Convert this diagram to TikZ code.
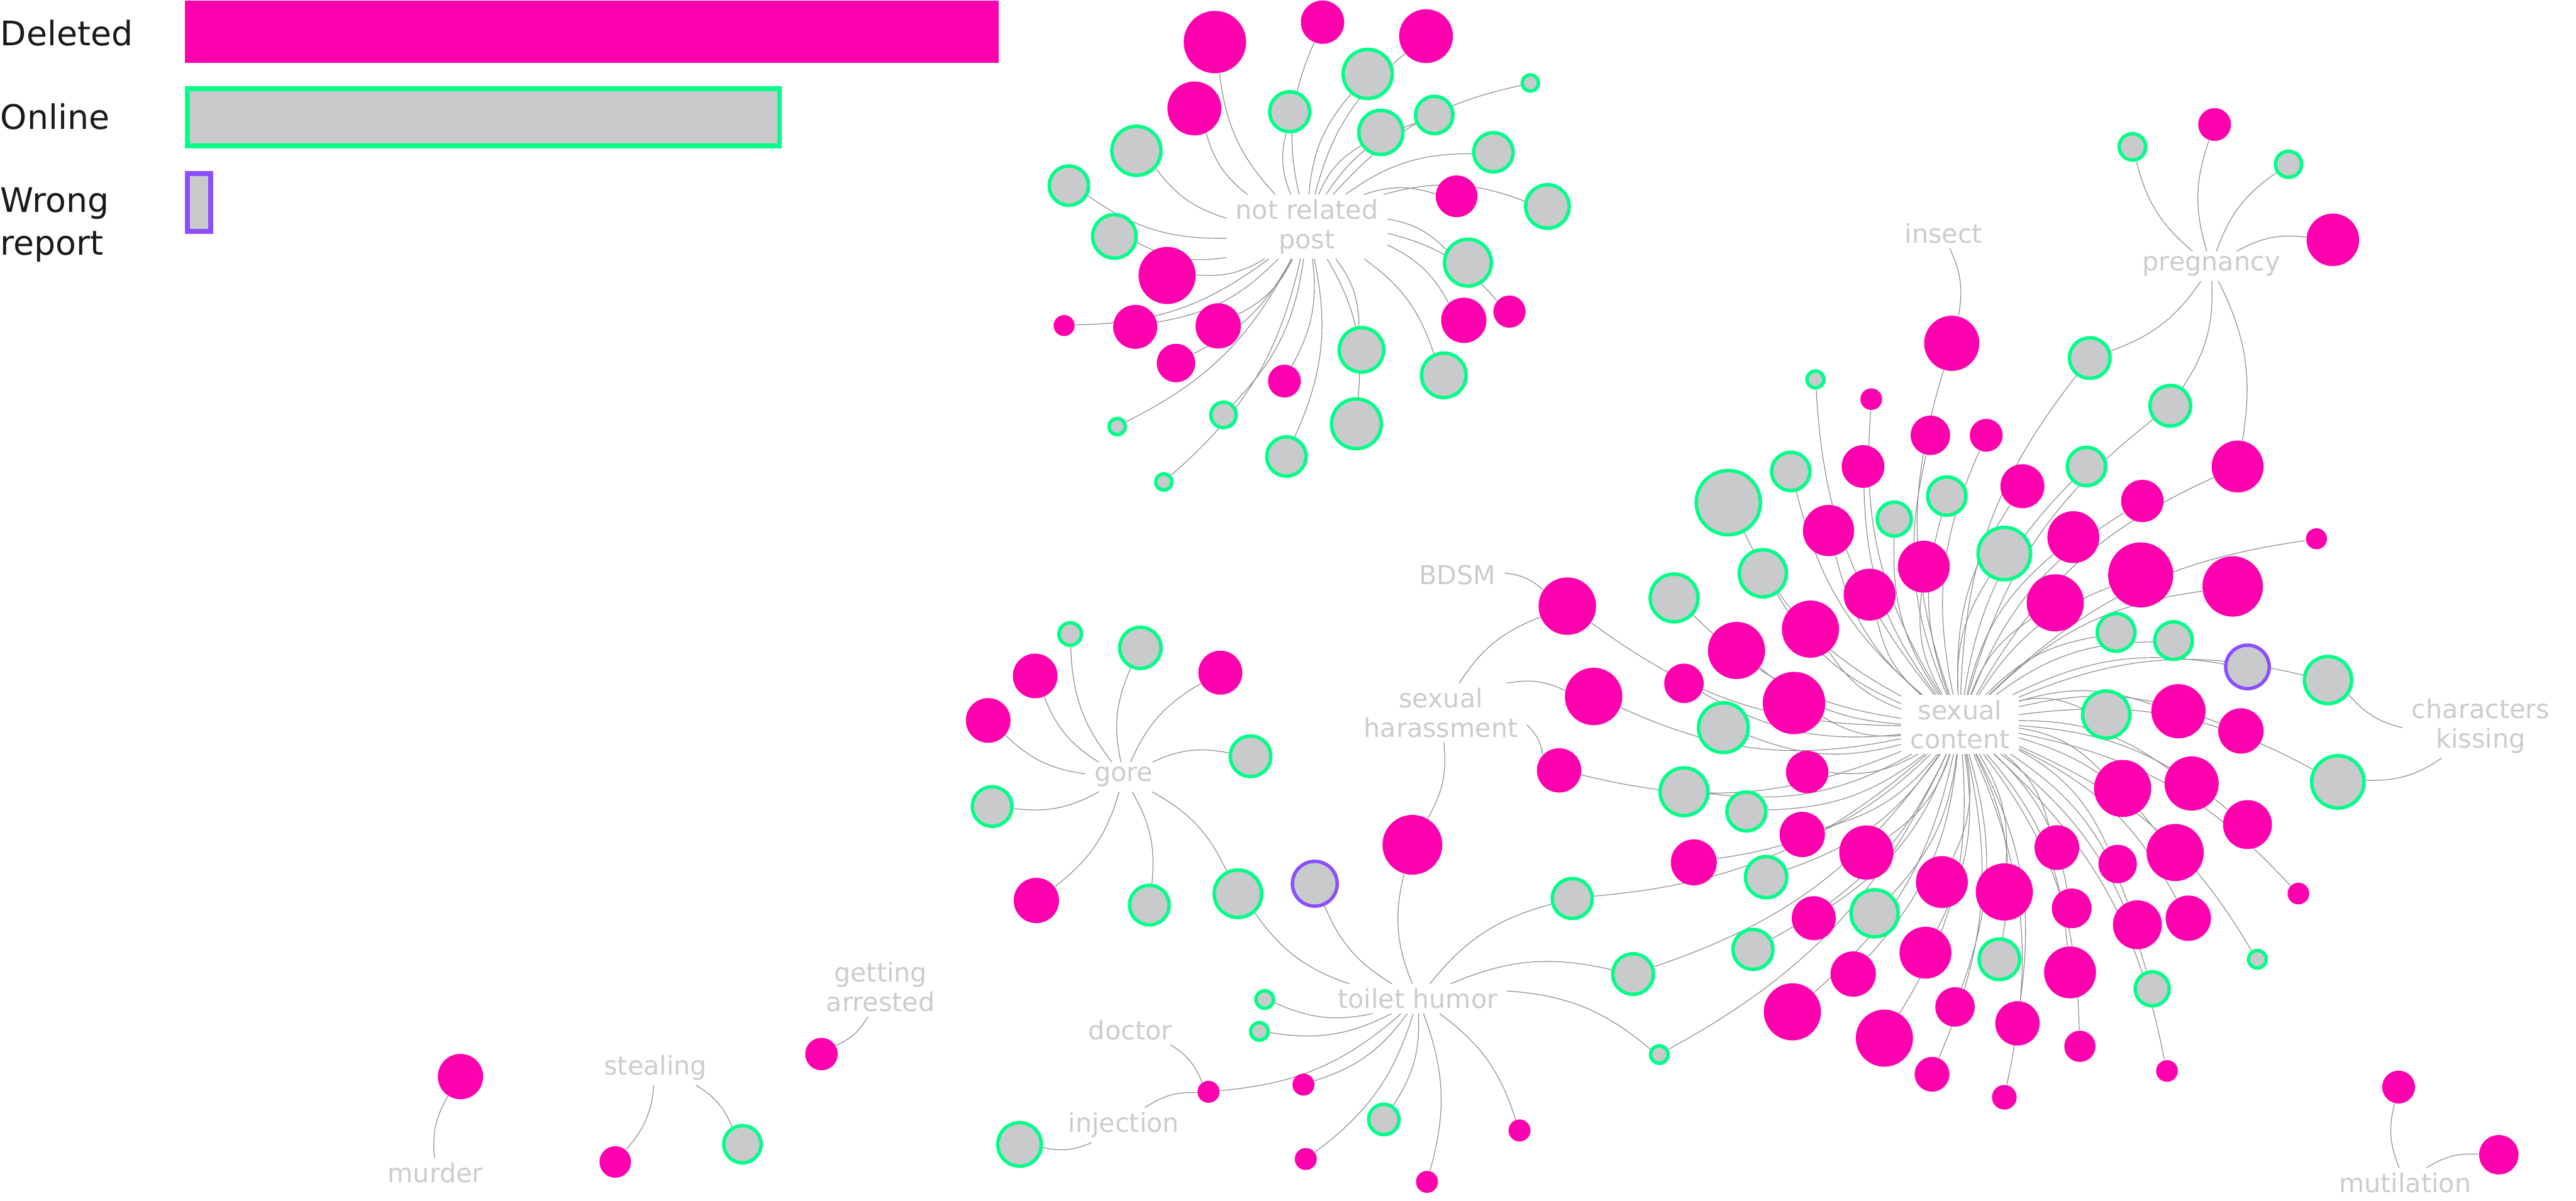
\documentclass[tikz,border=0pt]{standalone}
\usepackage{fontspec}
\setmainfont{DejaVu Sans}
\pgfdeclarelayer{back}\pgfdeclarelayer{links}\pgfsetlayers{back,links,main}
\definecolor{Del}{HTML}{FF00AF}
\definecolor{Onl}{HTML}{00FF88}
\definecolor{Gry}{HTML}{C9CACC}
\definecolor{Wrg}{HTML}{8C4FFF}
\definecolor{Lbl}{HTML}{CCCCCC}
\definecolor{Lnk}{HTML}{8A8A8A}
\definecolor{Ink}{HTML}{1A1A1A}
\begin{document}
\begin{tikzpicture}[x=0.02cm,y=-0.02cm,deleted/.style={circle,fill=Del,inner sep=0pt,minimum size=#1*0.04cm},online/.style={circle,draw=Onl,fill=Gry,line width=1.2pt,inner sep=0pt,minimum size={#1*0.04cm-1.2pt}},wrong/.style={circle,draw=Wrg,fill=Gry,line width=1.2pt,inner sep=0pt,minimum size={#1*0.04cm-1.2pt}},hub/.style={fill=white,text=Lbl,font=\fontsize{9}{10.2}\selectfont,align=center,inner xsep=3pt,inner ysep=1.5pt},legend/.style={anchor=west,text=Ink,font=\fontsize{11.7}{14.8}\selectfont,align=left,inner sep=0pt},link/.style={draw=Lnk,line width=0.25pt,bend left=18}]
\useasboundingbox (0,0) rectangle (1568,731);
\begin{pgfonlayer}{back}\fill[white] (0,0) rectangle (1568,731);\end{pgfonlayer}
\fill[Del](112.7,0.5) rectangle (608,38.4);
\draw[draw=Onl,fill=Gry,line width=0.06cm](114.2,54) rectangle (474.5,88.9);
\draw[draw=Wrg,fill=Gry,line width=0.06cm](114.2,105.8) rectangle (128.4,140.9);
\node[legend](lgdel) at (0,20){Deleted};\node[legend](lgonl) at (0,71){Online};\node[legend](lgwrg) at (0,137){Wrong\\report};
\node[hub](notrel) at (795.5,138){not related\\post};\node[hub](insect) at (1183,142){insect};\node[hub](preg) at (1346,162){pregnancy};
\node[hub](bdsm) at (887,350){BDSM};\node[hub](harass) at (877,434){sexual\\harassment};\node[hub](sexcon) at (1193,441){sexual\\content};
\node[hub](kiss) at (1510,442){characters\\kissing};\node[hub](gore) at (684,473){gore};\node[hub](toilet) at (863,608){toilet humor};
\node[hub](doctor) at (688,627){doctor};\node[hub](inject) at (684,685){injection};\node[hub](arrest) at (536,601){getting\\arrested};
\node[hub](steal) at (399,650){stealing};\node[hub](murder) at (265,714){murder};\node[hub](mutil) at (1464,720){mutilation};
\node[deleted=19](nr1) at (739.5,25.6){};\node[deleted=13.2](nr2) at (805,13.5){};\node[deleted=16.4](nr3) at (868,22){};\node[online=16](nr4) at (832.5,45){};
\node[deleted=16.4](nr5) at (727,66){};\node[online=13.2](nr6) at (785,68){};\node[online=14.5](nr7) at (840.5,80.6){};\node[online=12.4](nr8) at (873,70){};
\node[online=6](nr9) at (931.5,50.5){};\node[online=16](nr10) at (691.7,91.8){};\node[online=13](nr11) at (909,92.7){};\node[online=13](nr12) at (650.6,113){};
\node[deleted=12.7](nr13) at (886.6,119.5){};\node[online=14.3](nr14) at (941.9,125.7){};\node[online=14.3](nr15) at (678.3,143.9){};\node[deleted=17.4](nr16) at (710.4,167.7){};
\node[online=15.3](nr17) at (893.5,159.9){};\node[deleted=6.4](nr18) at (647.7,198.2){};\node[deleted=13.4](nr19) at (691,199){};\node[deleted=13.8](nr20) at (741.5,198.4){};
\node[deleted=13.8](nr21) at (891,195){};\node[deleted=9.8](nr22) at (918.8,189.7){};\node[deleted=11.7](nr23) at (715.8,221){};\node[online=14.6](nr24) at (828.7,213){};
\node[online=14.6](nr25) at (878.8,228.5){};\node[deleted=10](nr26) at (781.8,232){};\node[online=8.8](nr27) at (744.7,252.6){};\node[online=16.2](nr28) at (825.6,258){};
\node[online=6](nr29) at (680,259.7){};\node[online=13](nr30) at (783,277.9){};\node[online=6](nr31) at (708.4,293.4){};
\node[online=9.1](p1) at (1298,89.4){};\node[deleted=10](p2) at (1348,75.8){};\node[online=9](p3) at (1393,100){};\node[deleted=16](p4) at (1420,146){};
\node[deleted=16.8](c1) at (1188,209){};\node[online=13.4](c2) at (1272,218){};\node[online=6.2](c3) at (1105,231){};\node[deleted=6.6](c4) at (1139,243){};
\node[online=13.4](c5) at (1321,247){};\node[deleted=12](c6) at (1175,265){};\node[deleted=10](c7) at (1209,265){};\node[online=12.7](c8) at (1090,287){};
\node[deleted=13](c9) at (1134,284){};\node[online=12.7](c10) at (1270,284){};\node[deleted=15.8](c11) at (1362,284){};\node[online=20.6](c12) at (1052,306){};
\node[deleted=13.4](c13) at (1231,296){};\node[online=12.7](c14) at (1185,302){};\node[deleted=12.9](c15) at (1304,305){};\node[online=11.4](c16) at (1153,316){};
\node[deleted=15.6](c17) at (1113,323){};\node[deleted=6.4](c18) at (1410,328){};\node[deleted=15.8](c19) at (1262,327){};\node[online=17](c20) at (1220,337){};
\node[deleted=15.8](c21) at (1171,345){};\node[online=15.4](c22) at (1073,349){};\node[deleted=19.8](c23) at (1303,350){};\node[deleted=18.4](c24) at (1359,357){};
\node[deleted=15.8](c25) at (1138,362){};\node[deleted=17.4](c26) at (1251,367){};\node[online=15.6](c27) at (1019,364){};\node[deleted=17.5](c28) at (954,369){};
\node[deleted=17.4](c29) at (1102,383){};\node[online=12.5](c30) at (1288,385){};\node[online=12.5](c31) at (1323,390){};\node[deleted=17.4](c32) at (1057,396){};
\node[wrong=14.3](c33) at (1368,406){};\node[deleted=12](c34) at (1025,416){};\node[online=15.4](c35) at (1417,414){};\node[deleted=17.5](c36) at (970,424){};
\node[deleted=19](c37) at (1092,428){};\node[deleted=16.5](c38) at (1326,433){};\node[online=15.4](c39) at (1282,435){};\node[online=16.2](c40) at (1049,443){};
\node[deleted=13.8](c41) at (1364,445){};\node[deleted=13.5](c42) at (949,469){};\node[deleted=12.9](c43) at (1100,470){};\node[deleted=17.4](c44) at (1292,480){};
\node[deleted=16.5](c45) at (1334,477){};\node[online=17](c46) at (1423,476){};\node[online=15.6](c47) at (1025,482){};\node[online=12.9](c48) at (1063,494){};
\node[deleted=14.9](c49) at (1368,502){};\node[deleted=13.8](c50) at (1097,508){};\node[deleted=13.6](c51) at (1252,516){};\node[deleted=16.5](c52) at (1136,519){};
\node[deleted=17.4](c53) at (1324,519){};\node[deleted=14](c54) at (1031,525){};\node[online=13.6](c55) at (1075,534){};\node[deleted=11.7](c56) at (1289,526){};
\node[deleted=15.8](c57) at (1182,537){};\node[deleted=17.4](c58) at (1220,543){};\node[deleted=6.6](c59) at (1399,544){};\node[online=15.4](c60) at (1141,556){};
\node[deleted=12.1](c61) at (1261,553){};\node[deleted=13.4](c62) at (1104,559){};\node[deleted=14.9](c63) at (1301,563){};\node[deleted=13.8](c64) at (1332,559){};
\node[online=13.2](c65) at (957,547){};\node[online=13.2](c66) at (1067,578){};\node[deleted=15.8](c67) at (1172,580){};\node[online=13.4](c68) at (1217,584){};
\node[deleted=13.8](c69) at (1128,593){};\node[online=6.4](c70) at (1374,584){};\node[online=13.4](c71) at (994,593){};\node[deleted=15.8](c72) at (1260,592){};
\node[online=11.4](c73) at (1310,602){};\node[deleted=17.4](c74) at (1091,616){};\node[deleted=12](c75) at (1190,613){};\node[deleted=13.5](c76) at (1228,623){};
\node[deleted=17.4](c77) at (1147,632){};\node[online=6.4](c78) at (1010,642){};\node[deleted=9.5](c79) at (1266,637){};\node[deleted=10.6](c80) at (1176,654){};
\node[deleted=6.6](c81) at (1319,652){};\node[deleted=7.5](c82) at (1220,668){};
\node[online=7.9](g1) at (651.4,386){};\node[online=13.6](g2) at (694.1,394.4){};\node[deleted=13.6](g3) at (630.1,411.5){};\node[deleted=13.4](g4) at (742.8,409.5){};
\node[deleted=13.6](g5) at (601.5,438.6){};\node[online=13.4](g6) at (761.2,460.4){};\node[online=13.1](g7) at (603.9,491){};\node[deleted=13.8](g8) at (630.8,548.2){};
\node[online=13.1](g9) at (699.6,551){};\node[online=15.5](g10) at (753.5,544.1){};
\node[wrong=14.7](t1) at (800.3,538){};\node[deleted=18.2](t2) at (859.7,514.3){};\node[online=6.4](t3) at (769.8,608.5){};\node[online=6.4](t4) at (766.6,627.9){};
\node[deleted=6.7](t5) at (735.6,664.7){};\node[deleted=6.7](t6) at (793.4,660.3){};\node[online=10.3](t7) at (842.3,681.5){};\node[deleted=6.7](t8) at (924.9,688.2){};
\node[deleted=6.7](t9) at (794.8,705.6){};\node[deleted=6.7](t10) at (868.6,719.5){};
\node[deleted=13.8](m1) at (280.3,655.4){};\node[deleted=9.6](st1) at (374.5,707.4){};\node[online=12.4](st2) at (451.9,696.6){};\node[deleted=9.9](ar1) at (500,641.7){};
\node[online=14.3](in1) at (620.6,696.7){};\node[deleted=10](mt1) at (1460,661.8){};\node[deleted=12](mt2) at (1521,703){};
\begin{pgfonlayer}{links}
\foreach \i in {1,...,31} \draw[link](notrel) to (nr\i);
\foreach \i in {1,...,82} \draw[link](sexcon) to (c\i);
\foreach \n in {p1,p2,p3,p4,c2,c5,c11} \draw[link](preg) to (\n);
\foreach \i in {1,...,10} \draw[link](gore) to (g\i);
\foreach \n in {g10,t1,t2,t3,t4,t5,t6,t7,t8,t9,t10,c65,c71,c78} \draw[link](toilet) to (\n);
\foreach \n in {c28,c36,c42,t2} \draw[link](harass) to (\n);
\draw[link](insect) to (c1);\draw[link](bdsm) to (c28);\draw[link](kiss) to (c35);\draw[link](kiss) to (c46);
\draw[link](doctor) to (t5);\draw[link](inject) to (t5);\draw[link](inject) to (in1);\draw[link](arrest) to (ar1);
\draw[link](steal) to (st1);\draw[link](steal) to (st2);\draw[link](murder) to (m1);\draw[link](mutil) to (mt1);\draw[link](mutil) to (mt2);
\end{pgfonlayer}
\end{tikzpicture}
\end{document}
